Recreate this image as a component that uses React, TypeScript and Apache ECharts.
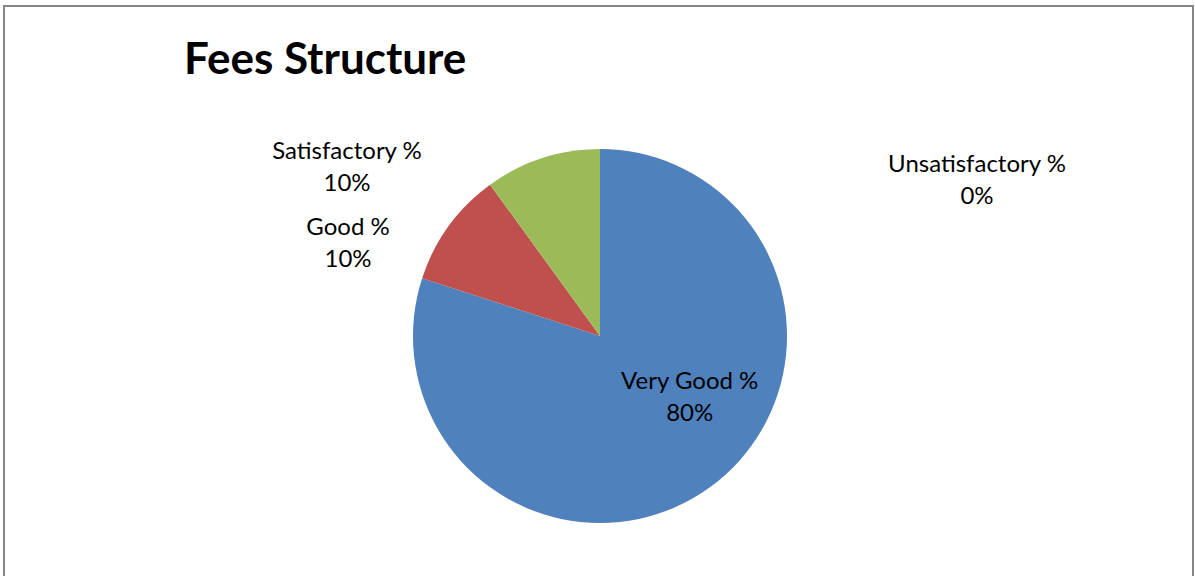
import React, { useEffect, useRef } from "react";
import * as echarts from "echarts";

const categories = ["Very Good %", "Good %", "Satisfactory %", "Unsatisfactory %"];
const values = [80, 10, 10, 0];
const colors = ["#4F81BD", "#C0504D", "#9BBB59", "#8064A2"];
const titleText = "Fees Structure";

export default function App() {
  const ref = useRef<HTMLDivElement>(null);
  useEffect(() => {
    if (!ref.current) return;
    const chart = echarts.init(ref.current, undefined, { renderer: "svg" });
    const font = "Lato, Carlito, Calibri, sans-serif";
    const labelPos: Record<number, [number, number]> = {
      1: [348, 241],
      2: [347, 165],
      3: [977, 178],
    };
    chart.setOption({
      animation: false,
      backgroundColor: "#ffffff",
      title: {
        text: titleText,
        left: 179,
        top: 30,
        textStyle: { fontFamily: font, fontSize: 44, fontWeight: "bold", color: "#000000" },
      },
      graphic: [
        {
          type: "rect",
          shape: { x: 4, y: 6, width: 1189, height: 620 },
          style: { fill: "none", stroke: "#868686", lineWidth: 2 },
          silent: true,
        },
      ],
      series: [
        {
          type: "pie",
          center: [600, 336],
          radius: 187,
          startAngle: 90,
          clockwise: true,
          avoidLabelOverlap: false,
          itemStyle: { borderColor: "#ffffff", borderWidth: 0 },
          label: {
            show: true,
            formatter: (p: any) => `${p.name}\n${p.value}%`,
            fontFamily: font,
            fontSize: 24,
            lineHeight: 32,
            color: "#000000",
            align: "center",
          },
          labelLine: { show: false },
          labelLayout: (p: any) => {
            const pos = labelPos[p.dataIndex];
            if (pos) {
              return { x: pos[0], y: pos[1], align: "center", verticalAlign: "middle" };
            }
            return { dx: 33, dy: -19 };
          },
          data: categories.map((name, i) => ({
            name,
            value: values[i],
            itemStyle: { color: colors[i] },
            label: i === 0 ? { position: "inside" } : { position: "outside" },
          })),
        },
      ],
    });
    return () => chart.dispose();
  }, []);
  return (
    <div
      ref={ref}
      style={{ position: "fixed", left: 0, top: 0, width: 1195, height: 576 }}
    />
  );
}
